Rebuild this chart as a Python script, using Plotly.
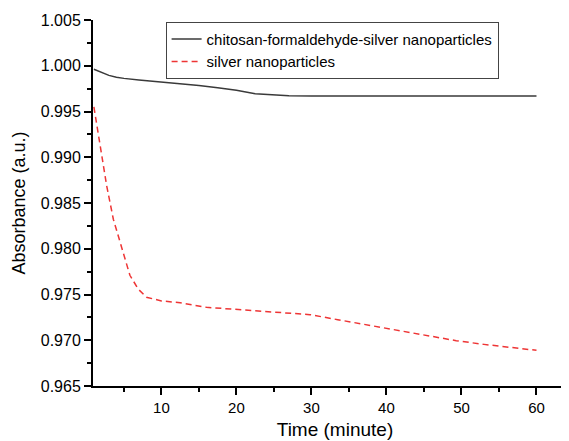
import plotly.graph_objects as go

time_cfs = [1, 2, 3, 4, 5, 7, 10, 12.5, 15, 17.5, 20, 22.5, 25, 27, 30, 40, 50, 60]
abs_cfs = [0.99962, 0.99925, 0.99895, 0.99875, 0.99862, 0.99845, 0.99825, 0.99808,
           0.99785, 0.99760, 0.99733, 0.99695, 0.99678, 0.99672, 0.99670, 0.99670,
           0.99670, 0.99670]

time_ag = [1, 1.8, 2.7, 3.6, 4.7, 5.8, 6.9, 8.0, 10, 12.5, 16, 21, 25.5, 29.8, 33.5,
           37.3, 41.3, 45, 49.3, 53, 57, 60]
abs_ag = [0.9955, 0.9916, 0.9869, 0.9832, 0.9800, 0.9771, 0.9756, 0.9747, 0.9743,
          0.9741, 0.9736, 0.9733, 0.9731, 0.9728, 0.97225, 0.9717, 0.9711, 0.97055,
          0.96995, 0.96955, 0.9692, 0.9689]

names = ["chitosan-formaldehyde-silver nanoparticles", "silver nanoparticles"]
x_ticks = [10, 20, 30, 40, 50, 60]
y_ticks = [0.965, 0.970, 0.975, 0.980, 0.985, 0.990, 0.995, 1.000, 1.005]

fig = go.Figure()
fig.add_trace(go.Scatter(x=time_cfs, y=abs_cfs, mode="lines", name=names[0],
                         line=dict(color="#3a3a3a", width=1.5)))
fig.add_trace(go.Scatter(x=time_ag, y=abs_ag, mode="lines", name=names[1],
                         line=dict(color="#ee3535", width=1.5, dash="6px,4px")))

font = "Arial, Liberation Sans, sans-serif"
fig.update_layout(
    width=569, height=441,
    margin=dict(l=85, r=0, t=12, b=63),
    paper_bgcolor="white", plot_bgcolor="white",
    font=dict(family=font, color="black"),
    showlegend=True,
    legend=dict(x=0.15, y=0.995, xanchor="left", yanchor="top",
                bordercolor="#444", borderwidth=1, bgcolor="white",
                font=dict(size=15, family=font), tracegroupgap=0,
                itemwidth=30),
)
fig.update_xaxes(
    range=[0.88, 65.4], tickvals=x_ticks, ticktext=[str(v) for v in x_ticks],
    automargin=False,
    showgrid=False, zeroline=False, showline=True, linecolor="black", linewidth=2,
    ticks="outside", ticklen=7, tickwidth=1.5, tickcolor="black",
    tickfont=dict(size=15, family=font),
    minor=dict(dtick=5, tick0=0, ticks="outside", ticklen=4, tickwidth=1.5, tickcolor="black"),
    title=dict(text="Time (minute)", font=dict(size=19, family=font), standoff=8),
)
fig.update_yaxes(
    range=[0.965, 1.005], tickvals=y_ticks, ticktext=[f"{v:.3f}" for v in y_ticks],
    automargin=False,
    showgrid=False, zeroline=False, showline=True, linecolor="black", linewidth=2,
    ticks="outside", ticklen=7, tickwidth=1.5, tickcolor="black",
    tickfont=dict(size=16, family=font),
    minor=dict(dtick=0.0025, tick0=0.965, ticks="outside", ticklen=4, tickwidth=1.5, tickcolor="black"),
    title=dict(text="Absorbance (a.u.)", font=dict(size=18, family=font), standoff=10),
)
fig.write_html("out.html")
